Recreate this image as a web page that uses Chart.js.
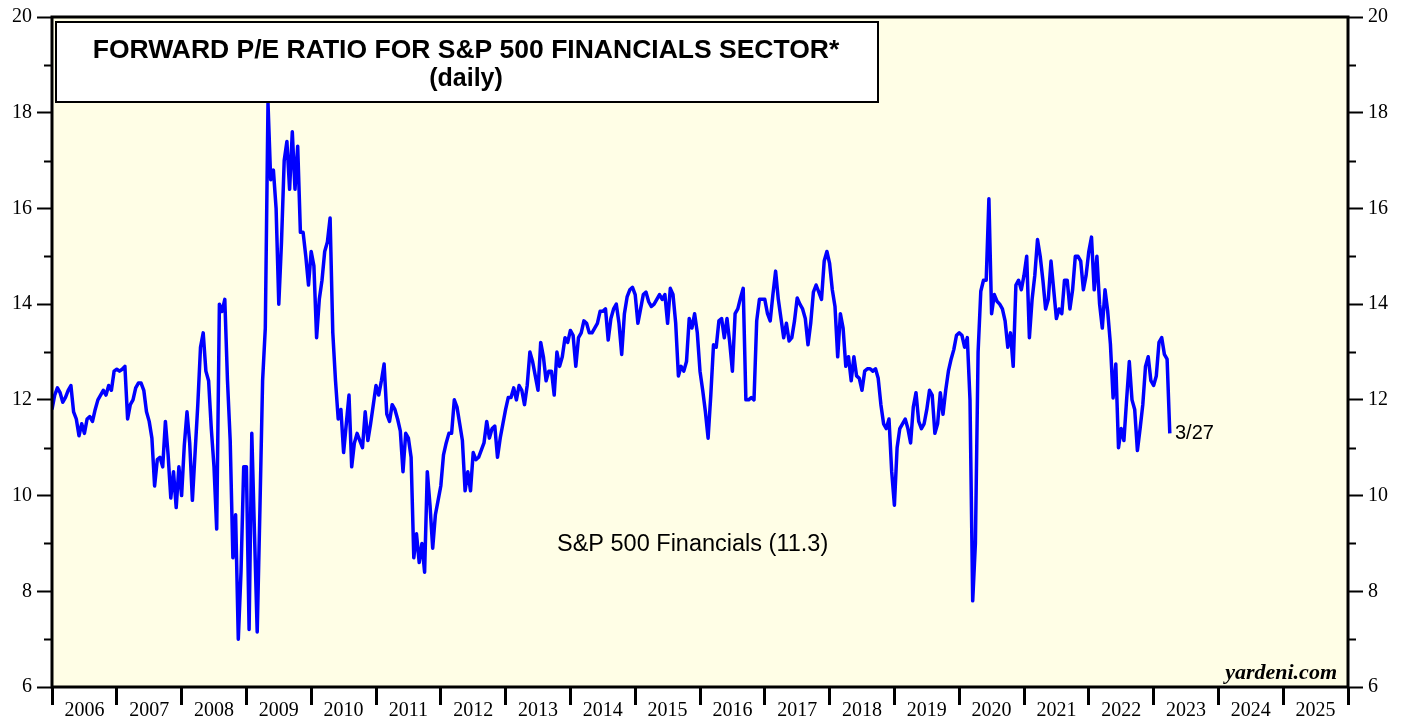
<!DOCTYPE html>
<html>
<head>
<meta charset="utf-8">
<title>Forward P/E ratio for S&P 500 Financials sector</title>
<script src="https://cdn.jsdelivr.net/npm/chart.js@4.4.0/dist/chart.umd.min.js"></script>
<style>
  html, body { margin: 0; padding: 0; background: #fff; }
  #wrap { width: 1407px; height: 719px; position: relative; }
</style>
</head>
<body>
<div id="wrap"><canvas id="peChart"></canvas></div>
<script>
// forward P/E (24 values per year)
const y2006 = [11.8, 12.1, 12.25, 12.15, 11.95, 12.05, 12.2, 12.3, 11.75, 11.6, 11.25, 11.5, 11.3, 11.6, 11.65, 11.55, 11.8, 12.0, 12.1, 12.2, 12.1, 12.3, 12.2, 12.6];
const y2007 = [12.64, 12.6, 12.64, 12.7, 11.6, 11.9, 12.0, 12.25, 12.35, 12.35, 12.2, 11.75, 11.55, 11.2, 10.2, 10.75, 10.8, 10.6, 11.55, 10.85, 9.95, 10.5, 9.75, 10.6];
const y2008 = [10.0, 11.05, 11.75, 11.1, 9.9, 10.9, 11.9, 13.1, 13.4, 12.6, 12.4, 11.4, 10.6, 9.3, 14.0, 13.85, 14.1, 12.4, 11.15, 8.7, 9.6, 7.0, 8.4, 10.6];
const y2009 = [10.6, 7.2, 11.3, 9.2, 7.15, 9.7, 12.4, 13.5, 18.2, 16.6, 16.8, 16.0, 14.0, 15.3, 17.0, 17.4, 16.4, 17.6, 16.4, 17.3, 15.5, 15.5, 15.0, 14.4];
const y2010 = [15.1, 14.8, 13.3, 14.1, 14.5, 15.1, 15.3, 15.8, 13.4, 12.4, 11.6, 11.8, 10.9, 11.5, 12.1, 10.6, 11.1, 11.3, 11.15, 11.0, 11.75, 11.15, 11.5, 11.9];
const y2011 = [12.3, 12.1, 12.4, 12.75, 11.7, 11.55, 11.9, 11.8, 11.6, 11.35, 10.5, 11.3, 11.2, 10.8, 8.7, 9.2, 8.6, 9.0, 8.4, 10.5, 9.8, 8.9, 9.6, 9.9];
const y2012 = [10.2, 10.85, 11.1, 11.3, 11.3, 12.0, 11.85, 11.5, 11.15, 10.1, 10.5, 10.1, 10.9, 10.75, 10.8, 10.95, 11.1, 11.55, 11.2, 11.4, 11.45, 10.8, 11.2, 11.5];
const y2013 = [11.8, 12.05, 12.05, 12.25, 12.0, 12.3, 12.2, 11.9, 12.3, 13.0, 12.8, 12.5, 12.2, 13.2, 12.9, 12.4, 12.6, 12.6, 12.1, 13.0, 12.7, 12.9, 13.3, 13.2];
const y2014 = [13.45, 13.35, 12.7, 13.3, 13.4, 13.65, 13.6, 13.4, 13.4, 13.5, 13.6, 13.85, 13.85, 13.9, 13.25, 13.7, 13.9, 14.0, 13.6, 12.95, 13.8, 14.15, 14.3, 14.35];
const y2015 = [14.2, 13.6, 13.9, 14.2, 14.25, 14.05, 13.95, 14.0, 14.1, 14.2, 14.1, 14.2, 13.6, 14.33, 14.2, 13.6, 12.5, 12.7, 12.6, 12.8, 13.7, 13.5, 13.8, 13.4];
const y2016 = [12.6, 12.2, 11.75, 11.2, 12.1, 13.15, 13.1, 13.65, 13.7, 13.3, 13.7, 13.2, 12.6, 13.8, 13.9, 14.13, 14.33, 12.0, 12.0, 12.05, 12.0, 13.65, 14.1, 14.1];
const y2017 = [14.1, 13.8, 13.65, 14.2, 14.69, 14.1, 13.7, 13.3, 13.6, 13.23, 13.3, 13.65, 14.13, 14.0, 13.9, 13.7, 13.15, 13.6, 14.25, 14.4, 14.25, 14.1, 14.9, 15.1];
const y2018 = [14.85, 14.3, 13.95, 12.9, 13.8, 13.5, 12.7, 12.9, 12.4, 12.9, 12.5, 12.45, 12.2, 12.6, 12.65, 12.65, 12.6, 12.65, 12.45, 11.9, 11.5, 11.4, 11.6, 10.5];
const y2019 = [9.8, 11.0, 11.4, 11.5, 11.6, 11.4, 11.1, 11.85, 12.15, 11.55, 11.4, 11.5, 11.8, 12.2, 12.1, 11.3, 11.5, 12.15, 11.7, 12.2, 12.6, 12.85, 13.05, 13.35];
const y2020 = [13.4, 13.35, 13.1, 13.3, 12.0, 7.8, 9.0, 13.0, 14.27, 14.5, 14.5, 16.2, 13.8, 14.2, 14.06, 14.0, 13.9, 13.65, 13.1, 13.4, 12.7, 14.4, 14.5, 14.3];
const y2021 = [14.6, 15.0, 13.3, 14.1, 14.6, 15.35, 15.0, 14.5, 13.9, 14.1, 14.9, 14.3, 13.7, 13.9, 13.8, 14.5, 14.5, 13.9, 14.3, 15.0, 15.0, 14.9, 14.3, 14.6];
const y2022 = [15.1, 15.4, 14.3, 15.0, 14.0, 13.5, 14.3, 13.85, 13.17, 12.04, 12.75, 11.0, 11.4, 11.15, 12.0, 12.8, 12.0, 11.8, 10.94, 11.4, 11.9, 12.7, 12.9, 12.4];
const y2023 = [12.3, 12.5, 13.2, 13.3, 12.95, 12.85, 11.3]; // through 3/27

const yearLabels = ['2006', '2007', '2008', '2009', '2010', '2011', '2012', '2013', '2014', '2015',
                    '2016', '2017', '2018', '2019', '2020', '2021', '2022', '2023', '2024', '2025'];
const firstYear = 2006;
const perYear = 24;

const seriesByYear = [y2006, y2007, y2008, y2009, y2010, y2011, y2012, y2013, y2014,
                      y2015, y2016, y2017, y2018, y2019, y2020, y2021, y2022, y2023];

const points = [];
seriesByYear.forEach((vals, i) => {
    vals.forEach((v, k) => points.push({ x: firstYear + i + k / perYear, y: v }));
});

// year boundaries get tick marks, mid-years carry the labels
const xTicks = [];
for (let i = 0; i <= yearLabels.length; i++) {
    xTicks.push(firstYear + i);
    if (i < yearLabels.length) xTicks.push(firstYear + i + 0.5);
}

const serif = 'Liberation Serif, Times New Roman, serif';
const sans = 'Liberation Sans, Arial, sans-serif';
const PLOT_BG = 'rgb(255, 254, 230)';

const framePlugin = {
    id: 'frame',
    beforeDraw(chart) {
        const { ctx, chartArea: a } = chart;
        ctx.save();
        ctx.fillStyle = '#ffffff';
        ctx.fillRect(0, 0, chart.width, chart.height);
        ctx.fillStyle = PLOT_BG;
        ctx.fillRect(a.left, a.top, a.right - a.left, a.bottom - a.top);
        ctx.restore();
    },
    afterDatasetsDraw(chart) {
        const { ctx } = chart;
        ctx.save();
        // title box
        ctx.fillStyle = '#ffffff';
        ctx.fillRect(56, 22, 822, 80);
        ctx.strokeStyle = '#000';
        ctx.lineWidth = 2;
        ctx.strokeRect(56, 22, 822, 80);
        ctx.fillStyle = '#000';
        ctx.textAlign = 'center';
        ctx.textBaseline = 'alphabetic';
        ctx.font = 'bold 26.5px ' + sans;
        ctx.fillText('FORWARD P/E RATIO FOR S&P 500 FINANCIALS SECTOR*', 466, 58);
        ctx.font = 'bold 25px ' + sans;
        ctx.fillText('(daily)', 466, 86);

        ctx.textAlign = 'left';
        ctx.textBaseline = 'middle';
        ctx.font = '23.5px ' + sans;
        ctx.fillText('S&P 500 Financials (11.3)', 557, 545);
        ctx.font = '20px ' + sans;
        ctx.fillText('3/27', 1175, 433);

        ctx.textAlign = 'right';
        ctx.textBaseline = 'alphabetic';
        ctx.font = 'italic bold 22px ' + serif;
        ctx.fillText('yardeni.com', 1337, 679);
        ctx.restore();
    },
    afterDraw(chart) {
        const { ctx, chartArea: a } = chart;
        const ys = chart.scales.y;
        ctx.save();
        ctx.strokeStyle = '#000';
        ctx.lineWidth = 2;
        // short minor ticks on odd values
        for (let v = 7; v < 20; v += 2) {
            const py = Math.round(ys.getPixelForValue(v)) + 0.5;
            ctx.beginPath();
            ctx.moveTo(a.left - 8, py);
            ctx.lineTo(a.left, py);
            ctx.moveTo(a.right, py);
            ctx.lineTo(a.right + 8, py);
            ctx.stroke();
        }
        ctx.lineWidth = 3;
        ctx.strokeRect(a.left, a.top, a.right - a.left, a.bottom - a.top);
        ctx.restore();
    }
};

const yAxis = (position, width) => ({
    position: position,
    min: 6,
    max: 20,
    afterFit: (s) => { s.width = width; },
    ticks: {
        stepSize: 1,
        padding: 5,
        color: '#000',
        font: { family: serif, size: 20 },
        callback: (v) => (v % 2 === 0 ? String(v) : '')
    },
    grid: {
        drawOnChartArea: false,
        tickLength: 15,
        tickWidth: 2,
        tickColor: (c) => (c.tick && c.tick.value % 2 === 0 ? '#000' : 'rgba(0,0,0,0)')
    },
    border: { display: false }
});

new Chart(document.getElementById('peChart'), {
    type: 'line',
    data: {
        datasets: [{
            label: 'S&P 500 Financials',
            data: points,
            borderColor: '#0000ff',
            borderWidth: 3.5,
            borderJoinStyle: 'round',
            pointRadius: 0,
            tension: 0,
            fill: false,
            yAxisID: 'y'
        }]
    },
    options: {
        responsive: true,
        maintainAspectRatio: false,
        animation: false,
        devicePixelRatio: 1,
        layout: { padding: { top: 15, left: 0, right: 0, bottom: 0 } },
        plugins: {
            legend: { display: false },
            tooltip: { enabled: false }
        },
        scales: {
            x: {
                type: 'linear',
                min: 2006,
                max: 2026,
                afterBuildTicks: (s) => { s.ticks = xTicks.map(v => ({ value: v })); },
                afterFit: (s) => { s.height = 32; },
                ticks: {
                    autoSkip: false,
                    maxRotation: 0,
                    padding: -6,
                    color: '#000',
                    font: { family: serif, size: 20 },
                    callback: (v) => (Number.isInteger(v) ? '' : yearLabels[Math.floor(v) - firstYear])
                },
                grid: {
                    drawOnChartArea: false,
                    tickLength: 18,
                    tickWidth: 3,
                    tickColor: (c) => (c.tick && Number.isInteger(c.tick.value) ? '#000' : 'rgba(0,0,0,0)')
                },
                border: { display: false }
            },
            y: yAxis('left', 52),
            y2: yAxis('right', 59)
        }
    },
    plugins: [framePlugin]
});
</script>
</body>
</html>
